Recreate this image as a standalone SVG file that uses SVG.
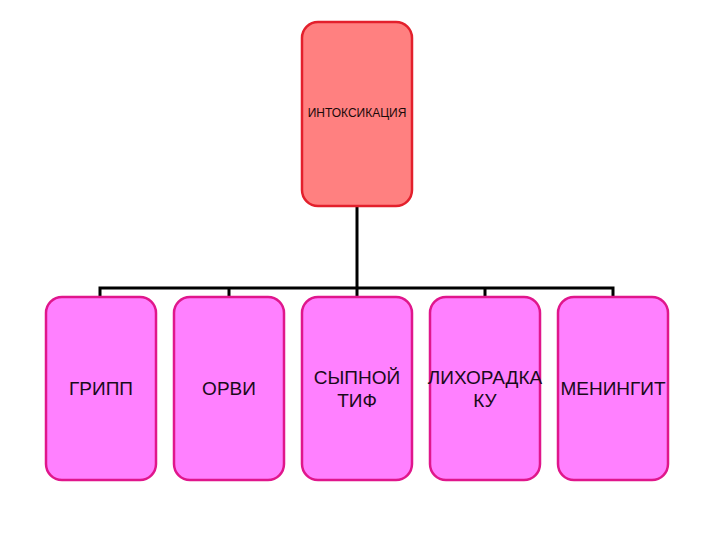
<svg xmlns="http://www.w3.org/2000/svg" width="720" height="540" viewBox="0 0 720 540">
<style>
.top{fill:#FF8080;stroke:#E3202C;stroke-width:2.5}
.box{fill:#FF80FF;stroke:#E0168C;stroke-width:2.5}
.t{font-family:"Liberation Sans",Arial,sans-serif;font-size:19px;fill:#1a0a1a;text-anchor:middle}
.ts{font-family:"Liberation Sans",Arial,sans-serif;font-size:12px;fill:#1a0a0a;text-anchor:middle}
.c{stroke:#000;stroke-width:3;fill:none}
</style>
<rect width="720" height="540" fill="#fff"/>
<g id="connectors">
<path class="c" d="M357 206V288M100 297V288H613V297M229 288V297M357 288V297M485 288V297"/>
</g>
<g id="n0"><rect class="top" x="302" y="22" width="110" height="184" rx="16"/><text class="ts" x="357" y="117">ИНТОКСИКАЦИЯ</text></g>
<g id="n1"><rect class="box" x="46" y="297" width="110" height="183" rx="16"/><text class="t" x="101" y="395">ГРИПП</text></g>
<g id="n2"><rect class="box" x="174" y="297" width="110" height="183" rx="16"/><text class="t" x="229" y="395">ОРВИ</text></g>
<g id="n3"><rect class="box" x="302" y="297" width="110" height="183" rx="16"/><text class="t" x="357" y="384">СЫПНОЙ</text><text class="t" x="357" y="407">ТИФ</text></g>
<g id="n4"><rect class="box" x="430" y="297" width="110" height="183" rx="16"/><text class="t" x="485" y="384">ЛИХОРАДКА</text><text class="t" x="485" y="407">КУ</text></g>
<g id="n5"><rect class="box" x="558" y="297" width="110" height="183" rx="16"/><text class="t" x="613" y="395">МЕНИНГИТ</text></g>
</svg>
